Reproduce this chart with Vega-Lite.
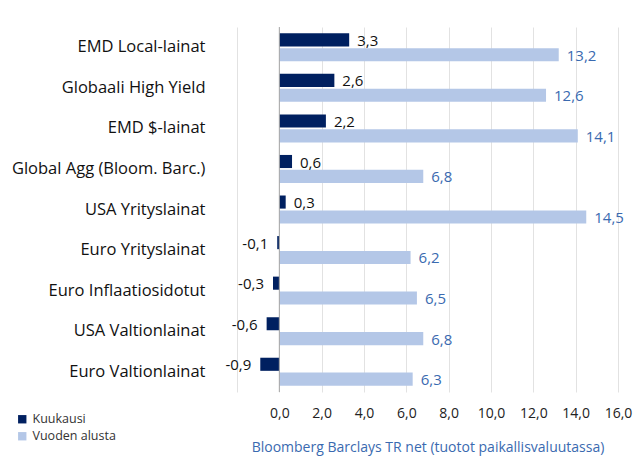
{
  "$schema": "https://vega.github.io/schema/vega-lite/v6.json",
  "width": 381,
  "height": 365,
  "autosize": {"type": "none"},
  "padding": {"left": 237, "top": 27, "right": 16, "bottom": 66},
  "background": "white",
  "config": {
    "font": "Open Sans",
    "view": {"stroke": null},
    "locale": {"number": {"decimal": ",", "thousands": " ", "grouping": [3], "currency": ["", " €"], "minus": "-"}}
  },
  "data": {
    "values": [
      {"cat": "EMD Local-lainat", "series": "Kuukausi", "value": 3.3},
      {"cat": "EMD Local-lainat", "series": "Vuoden alusta", "value": 13.2},
      {"cat": "Globaali High Yield", "series": "Kuukausi", "value": 2.6},
      {"cat": "Globaali High Yield", "series": "Vuoden alusta", "value": 12.6},
      {"cat": "EMD $-lainat", "series": "Kuukausi", "value": 2.2},
      {"cat": "EMD $-lainat", "series": "Vuoden alusta", "value": 14.1},
      {"cat": "Global Agg (Bloom. Barc.)", "series": "Kuukausi", "value": 0.6},
      {"cat": "Global Agg (Bloom. Barc.)", "series": "Vuoden alusta", "value": 6.8},
      {"cat": "USA Yrityslainat", "series": "Kuukausi", "value": 0.3},
      {"cat": "USA Yrityslainat", "series": "Vuoden alusta", "value": 14.5},
      {"cat": "Euro Yrityslainat", "series": "Kuukausi", "value": -0.1},
      {"cat": "Euro Yrityslainat", "series": "Vuoden alusta", "value": 6.2},
      {"cat": "Euro Inflaatiosidotut", "series": "Kuukausi", "value": -0.3},
      {"cat": "Euro Inflaatiosidotut", "series": "Vuoden alusta", "value": 6.5},
      {"cat": "USA Valtionlainat", "series": "Kuukausi", "value": -0.6},
      {"cat": "USA Valtionlainat", "series": "Vuoden alusta", "value": 6.8},
      {"cat": "Euro Valtionlainat", "series": "Kuukausi", "value": -0.9},
      {"cat": "Euro Valtionlainat", "series": "Vuoden alusta", "value": 6.3}
    ]
  },
  "encoding": {
    "y": {
      "field": "cat", "type": "nominal", "sort": null, "title": null,
      "scale": {"paddingInner": 0.31, "paddingOuter": 0.155},
      "axis": {"domain": false, "ticks": false, "labelPadding": 32, "labelFontSize": 16.5, "labelColor": "#111111", "labelLimit": 240}
    },
    "yOffset": {"field": "series", "type": "nominal", "scale": {"paddingInner": 0.12}},
    "x": {
      "field": "value", "type": "quantitative",
      "scale": {"domain": [-2, 16], "nice": false, "zero": false},
      "axis": {
        "values": [-2, 0, 2, 4, 6, 8, 10, 12, 14, 16],
        "format": ".1f",
        "labelExpr": "datum.value < -1 ? '' : datum.label",
        "labelFlush": false,
        "domain": false, "ticks": false,
        "grid": true, "gridColor": "#e2e2e2", "gridWidth": 1,
        "labelFontSize": 14, "labelColor": "#222222", "labelPadding": 14,
        "title": "Bloomberg Barclays TR net (tuotot paikallisvaluutassa)",
        "titleFontSize": 14, "titleFontWeight": "normal", "titleColor": "#3a6ab0", "titlePadding": 20
      }
    }
  },
  "layer": [
    {
      "mark": {"type": "bar"},
      "encoding": {
        "color": {
          "field": "series", "type": "nominal",
          "scale": {"domain": ["Kuukausi", "Vuoden alusta"], "range": ["#002060", "#b4c7e7"]},
          "legend": {
            "title": null, "orient": "none", "legendX": -221, "legendY": 386,
            "symbolType": "square", "symbolSize": 70, "labelFontSize": 12.5, "labelColor": "#333333",
            "rowPadding": 4, "symbolStrokeWidth": 0
          }
        }
      }
    },
    {
      "mark": {"type": "rule", "color": "#a6a6a6", "strokeWidth": 1},
      "data": {"values": [{"z": 0}]},
      "encoding": {"x": {"field": "z", "type": "quantitative"}, "y": null, "yOffset": null}
    },
    {
      "transform": [{"filter": "datum.value >= 0"}],
      "mark": {"type": "text", "align": "left", "dx": 8, "dy": 1, "fontSize": 15},
      "encoding": {
        "text": {"field": "value", "type": "quantitative", "format": ".1f"},
        "color": {"condition": {"test": "datum.series == 'Kuukausi'", "value": "#111111"}, "value": "#3a6ab0"}
      }
    },
    {
      "transform": [{"filter": "datum.value < 0"}],
      "mark": {"type": "text", "align": "right", "dx": -9, "dy": 1, "fontSize": 15},
      "encoding": {
        "text": {"field": "value", "type": "quantitative", "format": ".1f"},
        "color": {"condition": {"test": "datum.series == 'Kuukausi'", "value": "#111111"}, "value": "#3a6ab0"}
      }
    }
  ]
}
